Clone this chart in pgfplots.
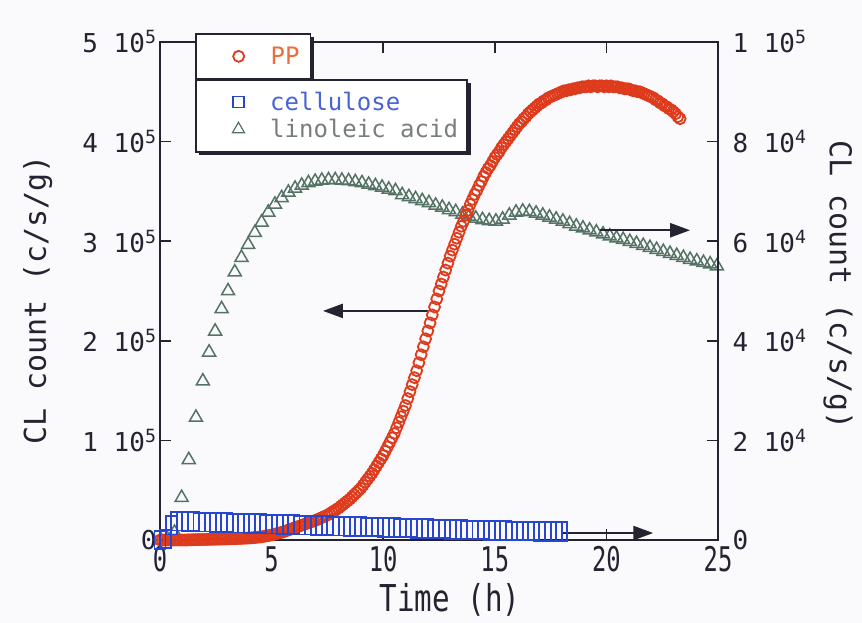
\documentclass[border=0pt]{standalone}
\usepackage{pgfplots}
\pgfplotsset{compat=1.18}
\usepackage{fontspec}
\setmainfont{DejaVu Sans Mono}
\newfontfamily\xtf[FakeStretch=0.7]{DejaVu Sans Mono}
\newfontfamily\xlf[FakeStretch=0.79]{DejaVu Sans Mono}
\usetikzlibrary{shadows,arrows.meta}
\definecolor{bgc}{RGB}{250,250,252}
\definecolor{axc}{RGB}{35,35,50}
\definecolor{ppc}{RGB}{222,58,28}
\definecolor{ppt}{RGB}{235,110,60}
\definecolor{cec}{RGB}{40,70,205}
\definecolor{cet}{RGB}{70,100,215}
\definecolor{lic}{RGB}{85,115,100}
\definecolor{lit}{RGB}{120,125,125}
\pgfplotsset{
  common/.style={scale only axis, width=558pt, height=498pt, xmin=0, xmax=25,
    at={(0pt,0pt)}, anchor=south west},
  legbox/.style={legend style={anchor=north west, draw=axc, line width=1.6pt, fill=white,
    drop shadow={shadow xshift=3.5pt, shadow yshift=-3.5pt, fill=axc, opacity=1},
    inner xsep=0pt, inner ysep=9pt, row sep=0pt, column sep=0pt,
    font=\fontsize{24}{24}\selectfont,
    nodes={inner sep=0pt, minimum height=27pt, anchor=west}},
    legend cell align=left,
    legend image code/.code={\path (0pt,-6pt) (73pt,6pt); \draw[##1] plot coordinates {(42pt,0pt)};}}
}
\begin{document}
\begin{tikzpicture}
\path[use as bounding box, fill=bgc] (-160pt,-83pt) rectangle (702pt,540pt);
% linoleic acid (right scale, x 10^4)
\begin{axis}[common, hide axis, ymin=0, ymax=10]
\addplot[only marks, mark=triangle, mark size=7.5pt, color=lic, line width=1.5pt] coordinates {
(0.03,0)(0.33,0.02)(0.65,0.15)(0.97,0.85)(1.29,1.61)(1.61,2.46)(1.92,3.19)(2.2,3.77)(2.47,4.19)(2.76,4.64)(3.05,5.0)(3.35,5.38)(3.65,5.67)(3.95,5.93)(4.25,6.17)(4.55,6.38)(4.85,6.58)(5.15,6.74)(5.45,6.87)(5.75,6.98)(6.05,7.06)(6.35,7.12)(6.65,7.17)(6.95,7.2)(7.25,7.22)(7.55,7.23)(7.85,7.23)(8.15,7.22)(8.45,7.21)(8.75,7.19)(9.05,7.17)(9.35,7.14)(9.65,7.11)(9.95,7.08)(10.25,7.04)(10.55,7.01)(10.85,6.93)(11.15,6.89)(11.45,6.85)(11.75,6.81)(12.05,6.77)(12.35,6.72)(12.65,6.68)(12.95,6.63)(13.25,6.59)(13.55,6.54)(13.85,6.5)(14.15,6.46)(14.45,6.43)(14.75,6.41)(15.05,6.4)(15.35,6.44)(15.65,6.52)(15.95,6.58)(16.25,6.6)(16.55,6.59)(16.85,6.56)(17.15,6.52)(17.45,6.48)(17.75,6.44)(18.05,6.4)(18.35,6.35)(18.65,6.3)(18.95,6.26)(19.25,6.22)(19.55,6.18)(19.85,6.14)(20.15,6.1)(20.45,6.06)(20.75,6.03)(21.05,5.99)(21.35,5.95)(21.65,5.91)(21.95,5.87)(22.25,5.83)(22.55,5.79)(22.85,5.75)(23.15,5.71)(23.45,5.67)(23.75,5.63)(24.05,5.6)(24.35,5.57)(24.65,5.54)(24.95,5.5)};
\end{axis}
% PP (left scale, x 10^5)
\begin{axis}[common, ymin=0, ymax=5, legbox,
  legend style={at={(0.0627,1.018)}},
  axis line style={line width=1.8pt, color=axc},
  tick style={line width=1.6pt, color=axc},
  tick align=inside, major tick length=11pt,
  ytick pos=left, xtick pos=both,
  xtick={0,5,10,15,20,25}, xticklabels={0,5,10,15,20,25},
  ytick={0,1,2,3,4,5},
  yticklabels={0,1 10\textsuperscript{5},2 10\textsuperscript{5},3 10\textsuperscript{5},4 10\textsuperscript{5},5 10\textsuperscript{5}},
  yticklabel style={font=\fontsize{26}{26}\selectfont, text=axc},
  xticklabel style={font=\xtf\fontsize{34}{34}\selectfont, text=axc, yshift=-3pt},
  xlabel={Time (h)}, ylabel={CL count (c/s/g)},
  xlabel style={at={(axis description cs:0.52,-0.121)}, anchor=center, font=\xlf\fontsize{37}{37}\selectfont, text=axc},
  ylabel style={at={(axis description cs:-0.219,0.482)}, anchor=center, font=\fontsize{30}{30}\selectfont, text=axc},
]
\addplot[only marks, mark=o, mark size=5.5pt, color=ppc, line width=1.8pt] coordinates {
(0,0)(0.1,0)(0.2,0)(0.3,0)(0.4,0)(0.5,0)(0.6,0)(0.7,0)(0.8,0)(0.9,0)(1.0,0)(1.1,0)(1.2,0)(1.3,0.002)(1.4,0.002)(1.5,0.003)(1.6,0.003)(1.7,0.004)(1.8,0.004)(1.9,0.005)(2.0,0.005)(2.1,0.006)(2.2,0.006)(2.3,0.007)(2.4,0.007)(2.5,0.008)(2.6,0.008)(2.7,0.009)(2.8,0.009)(2.9,0.01)(3.0,0.01)(3.1,0.011)(3.2,0.012)(3.3,0.013)(3.4,0.014)(3.5,0.015)(3.6,0.016)(3.7,0.017)(3.8,0.018)(3.9,0.019)(4.0,0.02)(4.1,0.022)(4.2,0.024)(4.3,0.026)(4.4,0.028)(4.5,0.03)(4.6,0.034)(4.7,0.038)(4.8,0.042)(4.9,0.046)(5.0,0.05)(5.1,0.056)(5.2,0.062)(5.3,0.068)(5.4,0.074)(5.5,0.08)(5.6,0.088)(5.7,0.096)(5.8,0.104)(5.9,0.112)(6.0,0.12)(6.1,0.128)(6.2,0.136)(6.3,0.144)(6.4,0.152)(6.5,0.16)(6.6,0.168)(6.7,0.176)(6.8,0.184)(6.9,0.192)(7.0,0.2)(7.1,0.21)(7.2,0.22)(7.3,0.23)(7.4,0.24)(7.5,0.25)(7.6,0.264)(7.7,0.278)(7.8,0.292)(7.9,0.306)(8.0,0.32)(8.1,0.338)(8.2,0.356)(8.3,0.374)(8.4,0.392)(8.5,0.41)(8.6,0.432)(8.7,0.454)(8.8,0.476)(8.9,0.498)(9.0,0.52)(9.1,0.55)(9.2,0.58)(9.3,0.61)(9.4,0.64)(9.5,0.67)(9.6,0.706)(9.7,0.742)(9.8,0.778)(9.9,0.814)(10.0,0.85)(10.1,0.894)(10.2,0.938)(10.3,0.982)(10.4,1.026)(10.5,1.07)(10.6,1.126)(10.7,1.182)(10.8,1.238)(10.9,1.294)(11.0,1.35)(11.1,1.42)(11.2,1.49)(11.3,1.56)(11.4,1.63)(11.5,1.7)(11.6,1.78)(11.7,1.86)(11.8,1.94)(11.9,2.02)(12.0,2.1)(12.1,2.18)(12.2,2.26)(12.3,2.34)(12.4,2.42)(12.5,2.5)(12.6,2.57)(12.7,2.64)(12.8,2.71)(12.9,2.78)(13.0,2.85)(13.1,2.91)(13.2,2.97)(13.3,3.03)(13.4,3.09)(13.5,3.15)(13.6,3.2)(13.7,3.26)(13.8,3.31)(13.9,3.37)(14.0,3.42)(14.1,3.47)(14.2,3.51)(14.3,3.56)(14.4,3.6)(14.5,3.65)(14.6,3.69)(14.7,3.73)(14.8,3.76)(14.9,3.8)(15.0,3.84)(15.1,3.87)(15.2,3.9)(15.3,3.94)(15.4,3.97)(15.5,4.0)(15.6,4.03)(15.7,4.06)(15.8,4.09)(15.9,4.12)(16.0,4.15)(16.1,4.18)(16.2,4.2)(16.3,4.23)(16.4,4.25)(16.5,4.28)(16.6,4.3)(16.7,4.32)(16.8,4.34)(16.9,4.36)(17.0,4.38)(17.1,4.39)(17.2,4.41)(17.3,4.42)(17.4,4.44)(17.5,4.45)(17.6,4.46)(17.7,4.47)(17.8,4.48)(17.9,4.49)(18.0,4.5)(18.1,4.51)(18.2,4.51)(18.3,4.52)(18.4,4.52)(18.5,4.53)(18.6,4.53)(18.7,4.54)(18.8,4.54)(18.9,4.55)(19.0,4.55)(19.1,4.55)(19.2,4.56)(19.3,4.55)(19.4,4.56)(19.5,4.56)(19.6,4.55)(19.7,4.56)(19.8,4.56)(19.9,4.55)(20.0,4.56)(20.1,4.55)(20.2,4.56)(20.3,4.55)(20.4,4.55)(20.5,4.55)(20.6,4.54)(20.7,4.54)(20.8,4.53)(20.9,4.53)(21.0,4.53)(21.1,4.52)(21.2,4.51)(21.3,4.51)(21.4,4.5)(21.5,4.5)(21.6,4.49)(21.7,4.48)(21.8,4.47)(21.9,4.46)(22.0,4.45)(22.1,4.44)(22.2,4.42)(22.3,4.41)(22.4,4.39)(22.5,4.38)(22.6,4.36)(22.7,4.35)(22.8,4.33)(22.9,4.32)(23.0,4.3)(23.1,4.28)(23.2,4.25)(23.3,4.23)};
\addlegendentry{\textcolor{ppt}{PP}\hspace*{11pt}}
\draw[axc, line width=2.4pt, -{Triangle[length=20pt,width=14pt]}] (axis cs:12.0,2.3) -- (axis cs:7.3,2.3);
\draw[axc, line width=2.4pt, -{Triangle[length=20pt,width=14pt]}] (axis cs:19.7,3.11) -- (axis cs:23.75,3.11);
\draw[axc, line width=2.4pt, -{Triangle[length=20pt,width=14pt]}] (axis cs:18.05,0.07) -- (axis cs:22.1,0.07);
\end{axis}
% cellulose (right scale, x 10^4)
\begin{axis}[common, ymin=0, ymax=10, legbox,
  legend style={at={(0.0627,0.9257)}},
  axis y line*=right, axis x line=none,
  axis line style={line width=1.8pt, color=axc},
  tick style={line width=1.6pt, color=axc},
  tick align=inside, major tick length=11pt,
  ytick={0,2,4,6,8,10},
  yticklabels={0,2 10\textsuperscript{4},4 10\textsuperscript{4},6 10\textsuperscript{4},8 10\textsuperscript{4},1 10\textsuperscript{5}},
  yticklabel style={font=\fontsize{26}{26}\selectfont, text=axc, xshift=11pt},
  ylabel={CL count (c/s/g)},
  ylabel style={at={(axis description cs:1.215,0.512)}, anchor=center, rotate=180, font=\fontsize{30}{30}\selectfont, text=axc},
]
\addplot[forget plot, only marks, mark=square, mark size=5.5pt, mark options={yscale=1.7}, color=cec, line width=1.8pt] coordinates {
(0,0)(0.25,0.02)(0.5,0.3)(0.75,0.38)(1.0,0.38)(1.25,0.37)(1.5,0.37)(1.75,0.36)(2.0,0.36)(2.25,0.36)(2.5,0.35)(2.75,0.35)(3.0,0.35)(3.25,0.34)(3.5,0.34)(3.75,0.34)(4.0,0.33)(4.25,0.33)(4.5,0.33)(4.75,0.32)(5.0,0.32)(5.25,0.32)(5.5,0.31)(5.75,0.31)(6.0,0.31)(6.25,0.3)(6.5,0.3)(6.75,0.3)(7.0,0.29)(7.25,0.29)(7.5,0.29)(7.75,0.28)(8.0,0.28)(8.25,0.28)(8.5,0.27)(8.75,0.27)(9.0,0.27)(9.25,0.26)(9.5,0.26)(9.75,0.26)(10.0,0.25)(10.25,0.25)(10.5,0.25)(10.75,0.24)(11.0,0.24)(11.25,0.24)(11.5,0.23)(11.75,0.23)(12.0,0.23)(12.25,0.22)(12.5,0.22)(12.75,0.22)(13.0,0.21)(13.25,0.21)(13.5,0.21)(13.75,0.2)(14.0,0.2)(14.25,0.2)(14.5,0.2)(14.75,0.19)(15.0,0.19)(15.25,0.19)(15.5,0.19)(15.75,0.18)(16.0,0.18)(16.25,0.18)(16.5,0.18)(16.75,0.18)(17.0,0.17)(17.25,0.17)(17.5,0.17)(17.75,0.17)(18.0,0.17)};
\addlegendimage{only marks, mark=square, mark size=5.5pt, color=cec, line width=1.4pt}
\addlegendentry{\textcolor{cet}{cellulose}}
\addlegendimage{only marks, mark=triangle, mark size=7pt, color=lic, line width=1.2pt}
\addlegendentry{\textcolor{lit}{linoleic acid}\hspace*{9pt}}
\end{axis}
\end{tikzpicture}
\end{document}
